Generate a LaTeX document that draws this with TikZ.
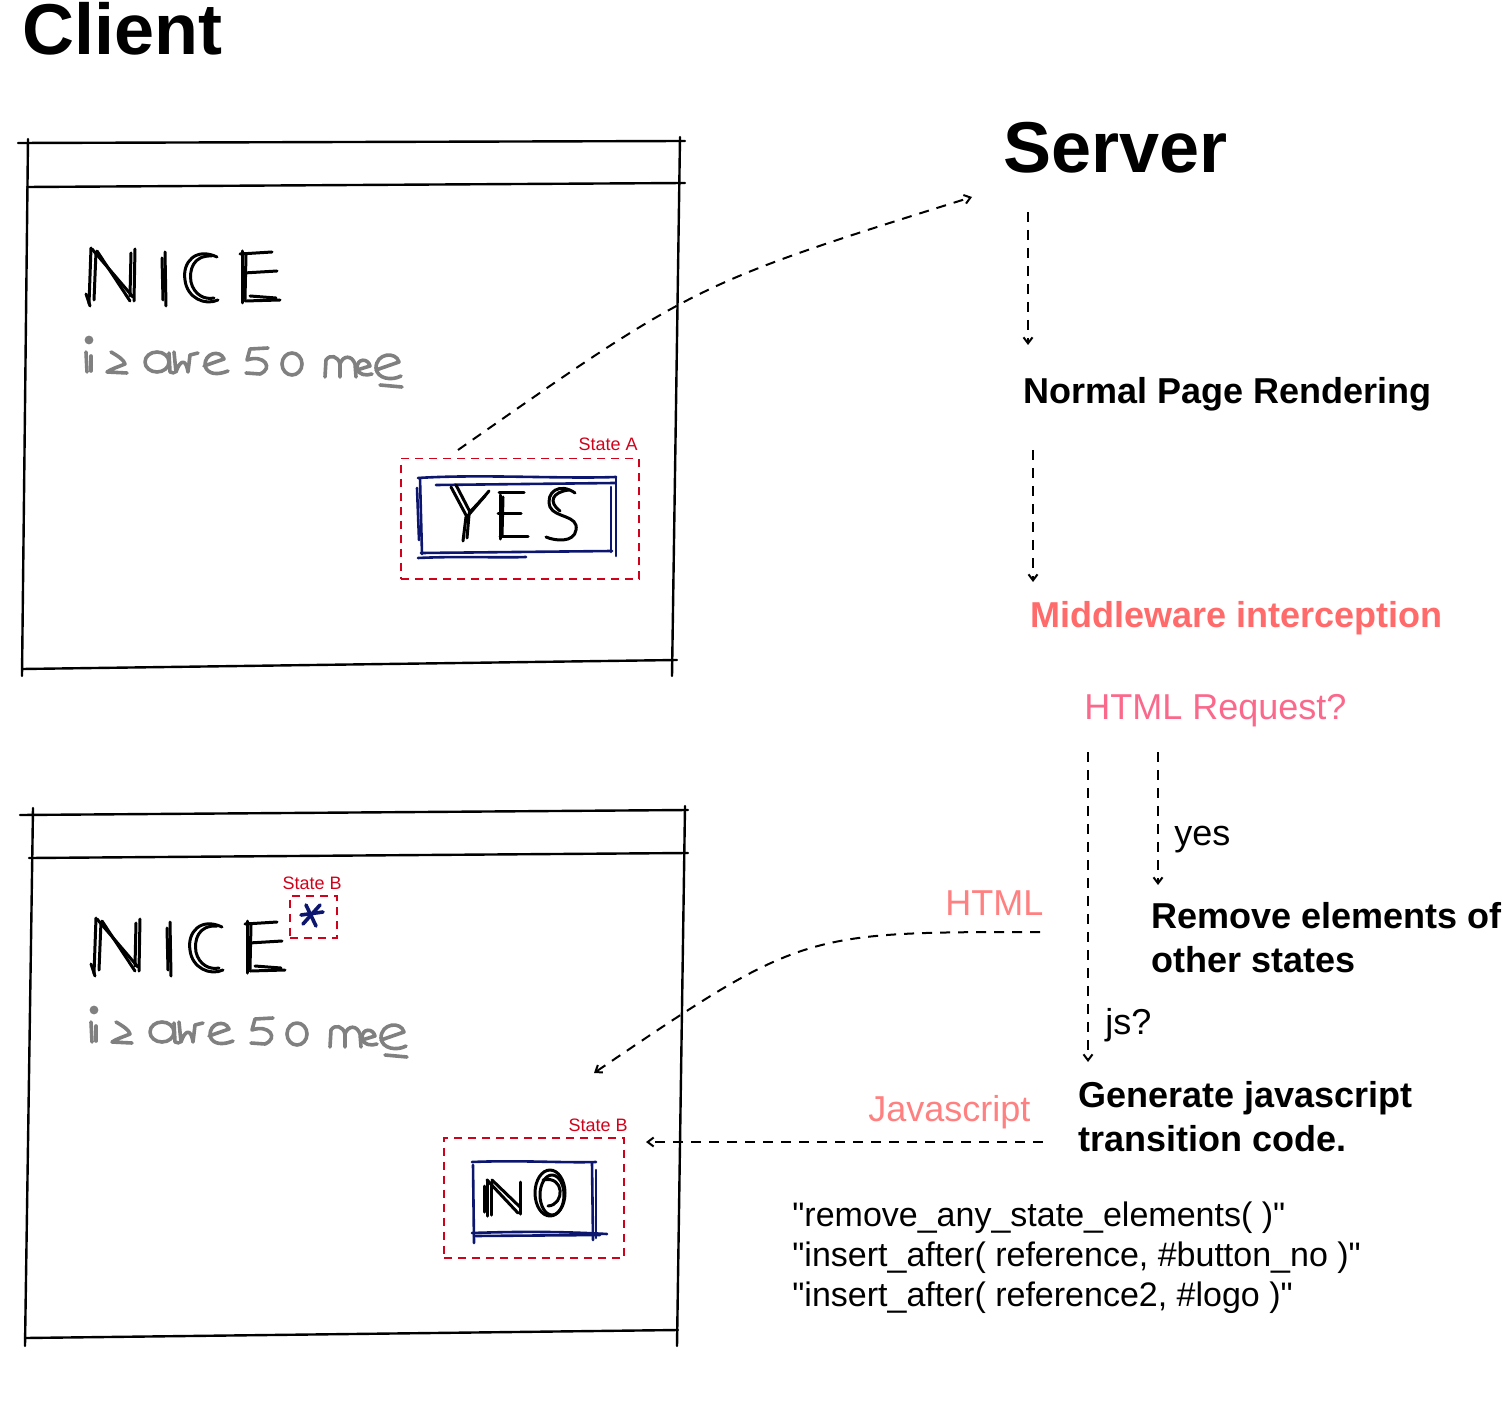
\documentclass[tikz,border=0pt]{standalone}
\usepackage{fontspec}
\setmainfont{Liberation Sans}
\usetikzlibrary{arrows.meta}
\definecolor{salmon}{RGB}{255,106,106}
\definecolor{pinkq}{RGB}{250,105,140}
\definecolor{lightsal}{RGB}{255,128,128}
\definecolor{statered}{RGB}{208,2,27}
\definecolor{navyink}{RGB}{12,22,110}
\definecolor{pencil}{RGB}{128,128,128}
\begin{document}
\begin{tikzpicture}[x=0.5pt,y=-0.5pt,
  txt/.style={inner sep=0pt, anchor=base west},
  bigtitle/.style={txt, font=\fontsize{36pt}{40pt}\selectfont\bfseries},
  stepbold/.style={txt, font=\fontsize{18pt}{21.8pt}\selectfont\bfseries, align=left},
  plain/.style={txt, font=\fontsize{18pt}{21.5pt}\selectfont},
  codetxt/.style={txt, font=\fontsize{17pt}{20pt}\selectfont, align=left},
  frame/.style={line width=1.2pt, line cap=round},
  ink/.style={line width=1.5pt, line cap=round, line join=round},
  pencilink/.style={draw=pencil, line width=1.8pt, line cap=round, line join=round},
  navybox/.style={draw=navyink, line width=1.3pt, line cap=round},
  statebox/.style={draw=statered, line width=0.75pt, dash pattern=on 4pt off 3pt},
  statelabel/.style={inner sep=0pt, anchor=base east, text=statered, font=\fontsize{9pt}{10pt}\selectfont},
  flow/.style={line width=1pt, dash pattern=on 5pt off 4pt, -{Straight Barb[length=3pt,width=4.5pt]}},
]
\useasboundingbox (0,0) rectangle (1502,1416);

% ---------- titles ----------
\node[bigtitle] (client) at (22,55) {Client};
\node[bigtitle] (server) at (1003,173) {Server};

% ---------- browser windows ----------
\draw[frame] (18,143) -- (685,141);
\draw[frame] (27,187) -- (685,183);
\draw[frame] (28,139) -- (22,676);
\draw[frame] (680,137) -- (672,676);
\draw[frame] (22,669) -- (677,660);

\draw[frame] (20,815) -- (688,810);
\draw[frame] (29,858) -- (688,853);
\draw[frame] (33,808) -- (25,1346);
\draw[frame] (685,806) -- (677,1346);
\draw[frame] (25,1338) -- (678,1330);

% ---------- handwritten NICE / is awesome ----------
\foreach \dx/\dy in {0/0, 5/670}{
\begin{scope}[shift={(\dx,\dy)}]
  % N
  \draw[ink] (89,304) -- (91,248);
  \draw[ink] (94,300) -- (96,252);
  \draw[ink] (86,294) -- (90,306);
  \draw[ink] (92,249) -- (133,297);
  \draw[ink] (97,251) -- (130,301);
  \draw[ink] (134,301) -- (135,249);
  \draw[ink] (130,296) -- (131,253);
  % I
  \draw[ink] (165,252) -- (166,306);
  \draw[ink] (162,258) -- (163,300);
  % C
  \draw[ink] (217,257) .. controls (196,247) and (182,262) .. (185,280) .. controls (187,298) and (205,306) .. (218,300);
  \draw[ink] (212,256) .. controls (193,255) and (189,270) .. (191,282) .. controls (194,295) and (205,300) .. (214,298);
  % E
  \draw[ink] (242,251) -- (242,303);
  \draw[ink] (246,255) -- (245,299);
  \draw[ink] (240,254) -- (272,252);
  \draw[ink] (244,273) -- (277,271);
  \draw[ink] (245,301) -- (280,300);
  \draw[ink] (250,296) -- (276,298);
  % is awesome
  \fill[pencil] (89,340) circle (2.2pt);
  \draw[pencilink] (86,352) -- (87,372);
  \draw[pencilink] (91,356) -- (91,371);
  \draw[pencilink] (111,352) .. controls (118,356) and (124,360) .. (125,364) .. controls (118,367) and (111,369) .. (107,372) -- (127,373);
  \draw[pencilink] (157,362) ellipse (6pt and 5pt);
  \draw[pencilink] (169,353) -- (170,372) -- (174,373);
  \draw[pencilink] (174,352) -- (176,372) .. controls (180,360) and (186,358) .. (188,372) -- (190,355) -- (198,353);
  \draw[pencilink] (204,366) -- (224,359) .. controls (220,349) and (204,353) .. (205,366) .. controls (208,375) and (218,375) .. (228,371);
  \draw[pencilink] (268,348) -- (250,349) -- (247,360) .. controls (264,354) and (274,368) .. (260,374) -- (246,373);
  \draw[pencilink] (292,364) ellipse (5pt and 5.5pt);
  \draw[pencilink] (325,377) -- (326,360) .. controls (330,354) and (338,356) .. (340,364) -- (340,377);
  \draw[pencilink] (340,364) .. controls (343,355) and (352,355) .. (355,364) -- (356,377);
  \draw[pencilink] (357,370) -- (370,366) .. controls (368,358) and (357,358) .. (357,368) .. controls (358,375) and (366,376) .. (372,374);
  \draw[pencilink] (376,370) -- (399,362) .. controls (396,351) and (376,353) .. (376,368) .. controls (377,379) and (392,381) .. (401,376);
  \draw[pencilink] (380,385) -- (402,387);
\end{scope}}

% ---------- state A : YES button ----------
\node[statebox, minimum width=119pt, minimum height=60pt, anchor=north west, inner sep=0pt] (stateA) at (400,458) {};
\node[statelabel] (stateAlabel) at (638,451) {State A};
\draw[navybox] (418,478) .. controls (480,474) and (560,479) .. (616,477);
\draw[navybox] (436,485) -- (615,483);
\draw[navybox] (420,478) -- (422,554);
\draw[navybox] (417,488) -- (419,540);
\draw[navybox] (616,477) -- (616,556);
\draw[navybox] (611,487) -- (611,552);
\draw[navybox] (421,553) -- (612,551);
\draw[navybox] (418,558) .. controls (460,556) and (500,558) .. (526,557);
% YES letters
\draw[ink] (451,487) -- (467,517);
\draw[ink] (456,485) -- (470,512);
\draw[ink] (489,491) -- (466,518);
\draw[ink] (485,496) -- (469,513);
\draw[ink] (466,517) -- (463,541);
\draw[ink] (469,515) -- (467,538);
\draw[ink] (500,495) -- (500,539);
\draw[ink] (503,497) -- (502,536);
\draw[ink] (499,493) -- (524,493);
\draw[ink] (498,514) -- (521,514);
\draw[ink] (500,537) -- (528,537);
\draw[ink] (575,493) .. controls (560,482) and (545,492) .. (550,507) .. controls (555,518) and (579,515) .. (576,530) .. controls (574,543) and (555,541) .. (546,537);
\draw[ink] (569,490) .. controls (552,492) and (548,502) .. (560,511);

% ---------- state B : star ----------
\node[statebox, minimum width=23.5pt, minimum height=21pt, anchor=north west, inner sep=0pt] (stateBstar) at (289,895) {};
\node[statelabel] (stateBstarlabel) at (342,889) {State B};
\draw[navyink, line width=1.8pt, line cap=round] (306,905) -- (316,926);
\draw[navyink, line width=1.8pt, line cap=round] (301,915) -- (323,912);
\draw[navyink, line width=1.8pt, line cap=round] (303,924) -- (320,905);

% ---------- state B : NO button ----------
\node[statebox, minimum width=90pt, minimum height=60pt, anchor=north west, inner sep=0pt] (stateB) at (443,1137) {};
\node[statelabel] (stateBlabel) at (628,1131) {State B};
\draw[navybox] (472,1162) .. controls (520,1160) and (560,1163) .. (596,1162);
\draw[navybox] (473,1165) -- (474,1243);
\draw[navybox] (592,1163) -- (593,1240);
\draw[navybox] (596,1170) -- (596,1238);
\draw[navybox] (472,1233) .. controls (530,1231) and (570,1232) .. (607,1234);
\draw[navybox] (474,1236) -- (600,1235);
% NO letters
\draw[ink] (487,1216) -- (487,1180);
\draw[ink] (491,1215) -- (491,1182);
\draw[ink] (484,1212) -- (484,1186);
\draw[ink] (487,1180) -- (518,1213);
\draw[ink] (492,1180) -- (520,1207);
\draw[ink] (520,1214) -- (520,1182);
\draw[ink] (550,1193) ellipse (7.5pt and 11.5pt);
\draw[ink] (552,1195) ellipse (6pt and 10pt);
\draw[ink] (543,1180) .. controls (565,1175) and (565,1205) .. (548,1206);

% ---------- server side texts ----------
\node[stepbold] (normal) at (1023,404) {Normal Page Rendering};
\node[stepbold, text=salmon] (middleware) at (1030,627) {Middleware interception};
\node[plain, text=pinkq] (htmlreq) at (1084,719) {HTML Request?};
\node[plain] (yeslabel) at (1174,845) {yes};
\node[stepbold] (remove) at (1151,972) {Remove elements of\\other states};
\node[plain] (jslabel) at (1105,1034) {js?};
\node[stepbold] (generate) at (1078,1151) {Generate javascript\\transition code.};
\node[plain, text=lightsal] (htmllabel) at (945,915) {HTML};
\node[plain, text=lightsal] (jslink) at (868,1121) {Javascript};
\node[codetxt] (code) at (792,1306) {\textquotedbl remove\_any\_state\_elements( )\textquotedbl\\\textquotedbl insert\_after( reference, \#button\_no )\textquotedbl\\\textquotedbl insert\_after( reference2, \#logo )\textquotedbl};

% ---------- connectors ----------
\coordinate (yesout) at (458,450);
\coordinate (srvin) at (972,197);
\draw[flow] (yesout) .. controls (695,284) .. (srvin);

\coordinate (srvdown) at (1028,212);
\coordinate (normalin) at (1028,345);
\draw[flow] (srvdown) -- (normalin);

\coordinate (normalout) at (1033,450);
\coordinate (middlein) at (1033,582);
\draw[flow] (normalout) -- (middlein);

\coordinate (reqout) at (1088,752);
\coordinate (genin) at (1088,1062);
\draw[flow] (reqout) -- (genin);

\coordinate (reqyes) at (1158,752);
\coordinate (removein) at (1158,885);
\draw[flow] (reqyes) -- (removein);

\coordinate (htmlout) at (1040,932);
\coordinate (noin) at (594,1073);
\draw[flow] (htmlout) .. controls (802,932) .. (noin);

\coordinate (jsout) at (1043,1142);
\coordinate (stateBin) at (646,1142);
\draw[flow] (jsout) -- (stateBin);
\end{tikzpicture}
\end{document}
